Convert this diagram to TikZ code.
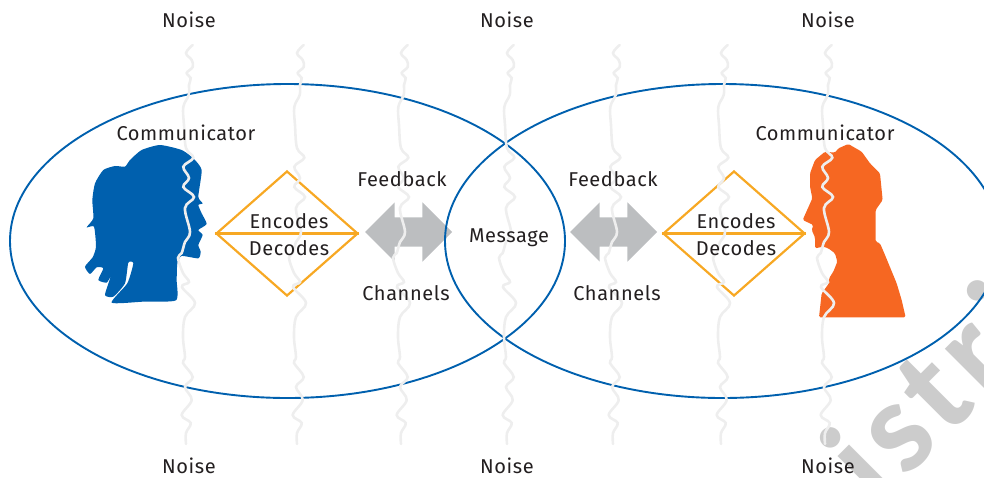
\documentclass[tikz,border=0pt]{standalone}
\usepackage{fontspec}
\setmainfont{Fira Sans}
\newfontfamily\labfont[LetterSpace=3]{Fira Sans}
\newfontfamily\markfont[LetterSpace=6]{Carlito}
\usetikzlibrary{shapes.geometric, shapes.arrows, positioning}

\definecolor{blueline}{HTML}{0060AE}
\definecolor{orangehead}{HTML}{F66722}
\definecolor{amberline}{HTML}{F7A823}
\definecolor{arrowgrey}{HTML}{BCBEC0}
\definecolor{noisegrey}{HTML}{EEEEEE}
\definecolor{markgrey}{HTML}{CCCCCC}
\definecolor{inkgrey}{HTML}{231F20}

\tikzset{
  lab/.style = {text=inkgrey, inner sep=0pt, font=\labfont\fontsize{20}{20}\selectfont},
  sphere/.style = {ellipse, draw=blueline, line width=1.9pt, minimum width=555pt, minimum height=314pt, inner sep=0pt},
  codebox/.style = {diamond, draw=amberline, line width=2.2pt, minimum width=142pt, minimum height=125pt, inner sep=0pt},
  codeline/.style = {draw=amberline, line width=2.2pt},
  twoway/.style = {double arrow, fill=arrowgrey, double arrow tip angle=90, double arrow head extend=15pt, minimum height=87pt, inner xsep=0pt, inner ysep=14.5pt},
  noise/.style = {draw=noisegrey, line width=2.6pt, line cap=round}
}

\begin{document}
\begin{tikzpicture} [x=1pt, y=-1pt, on grid]
\useasboundingbox (0,0) rectangle (984,477);
\clip (0,0) rectangle (984,477);

% watermark
\node (mark) [text=markgrey, inner sep=0pt, anchor=base west, rotate=45, font=\markfont\bfseries\fontsize{132}{132}\selectfont] at (877,508) {istrib};

% double arrows
\node (arrL) [twoway] at (408.5,232) {};
\node (arrR) [twoway] at (613.5,232) {};

% heads
\fill [blueline, shift={(70,120)}, x=0.3333pt, y=-0.3333pt] plot [smooth cycle, tension=0.35] coordinates {
  (125,548) (220,545) (318,541) (320,480) (322,430) (335,408) (385,415) (392,395)
  (385,375) (398,345) (385,330) (410,312) (395,280) (385,255) (398,250)
  (385,230) (395,150) (370,115) (335,90) (270,75) (215,90) (180,120)
  (165,140) (135,138) (100,150) (75,190) (67,240) (70,295) (50,322)
  (72,320) (78,380) (68,412) (45,440) (60,462) (80,442) (100,445)
  (85,480) (110,488) (122,470) (105,525) (130,530) (165,490) (175,428)
  (190,430) (172,490)};
\fill [orangehead, rounded corners=1.5pt, shift={(780,130)}, x=0.3333pt, y=-0.3333pt]
  (117,562) -- (377,562) -- (365,510) -- (350,460) -- (315,375) -- (300,340) -- (287,335)
  -- (287,240) -- (308,210) -- (300,130) -- (270,100) -- (245,65) -- (205,42) -- (175,55)
  -- (165,68) -- (135,65) -- (105,90) -- (90,130) -- (90,170) -- (97,205) -- (68,270)
  -- (100,285) -- (95,300) -- (105,322) -- (105,355) -- (130,350) -- (145,355) -- (165,370)
  -- (172,395) -- (160,425) -- (147,445) -- (147,460) -- (125,490) -- cycle;

% spheres
\node (sphL) [sphere] at (287.5,241) {};
\node (sphR) [sphere] at (722.5,241) {};

% encodes / decodes boxes
\node (boxL) [codebox] at (287,233.5) {};
\node (boxR) [codebox] at (734,233.5) {};
\draw [codeline] (boxL.west) -- (boxL.east);
\draw [codeline] (boxR.west) -- (boxR.east);

% noise
\foreach \nx in {187,298,402,508,614,722,826}
  \draw [noise, shift={(\nx,0)}] plot [smooth, tension=0.6] coordinates {
    (5.7,45) (-1,53) (4.7,60) (5.7,67) (-0.3,73) (3.7,78) (2,85) (1.7,95) (-3.7,107)
    (-3,125) (-1,148) (6.3,157.7) (-3.7,166.7) (2,178) (-3.7,187) (7,197) (-2,208)
    (3,232) (-2,242) (-5.3,253) (-9,258) (-4,273) (2,282) (-5,287) (8,303) (-2,317)
    (-4,337) (-2,357) (-4,363) (5.7,377) (-2,387) (4.7,400) (-5.3,415) (3.7,423)
    (-1,433) (-1,444)};

% texts
\node (noiseTL) [lab] at (189,20) {Noise};
\node (noiseTM) [lab] at (507,20) {Noise};
\node (noiseTR) [lab] at (828,20) {Noise};
\node (noiseBL) [lab] at (189,466) {Noise};
\node (noiseBM) [lab] at (507,466) {Noise};
\node (noiseBR) [lab] at (828,466) {Noise};
\node (commL) [lab] at (186,133) {Communicator};
\node (commR) [lab] at (825,133) {Communicator};
\node (msg) [lab] at (509,238) {Message};
\node (encL) [lab, above right = 12.5pt and 2pt of boxL] {Encodes};
\node (decL) [lab, below right = 14.5pt and 2pt of boxL] {Decodes};
\node (encR) [lab, above right = 12.5pt and 2pt of boxR] {Encodes};
\node (decR) [lab, below right = 14.5pt and 2pt of boxR] {Decodes};
\node (fbL) [lab, above left = 53pt and 6.5pt of arrL] {Feedback};
\node (chL) [lab, below left = 61pt and 2.5pt of arrL] {Channels};
\node (fbR) [lab, above left = 53pt and 0.5pt of arrR] {Feedback};
\node (chR) [lab, below right = 61pt and 3.5pt of arrR] {Channels};
\end{tikzpicture}
\end{document}
